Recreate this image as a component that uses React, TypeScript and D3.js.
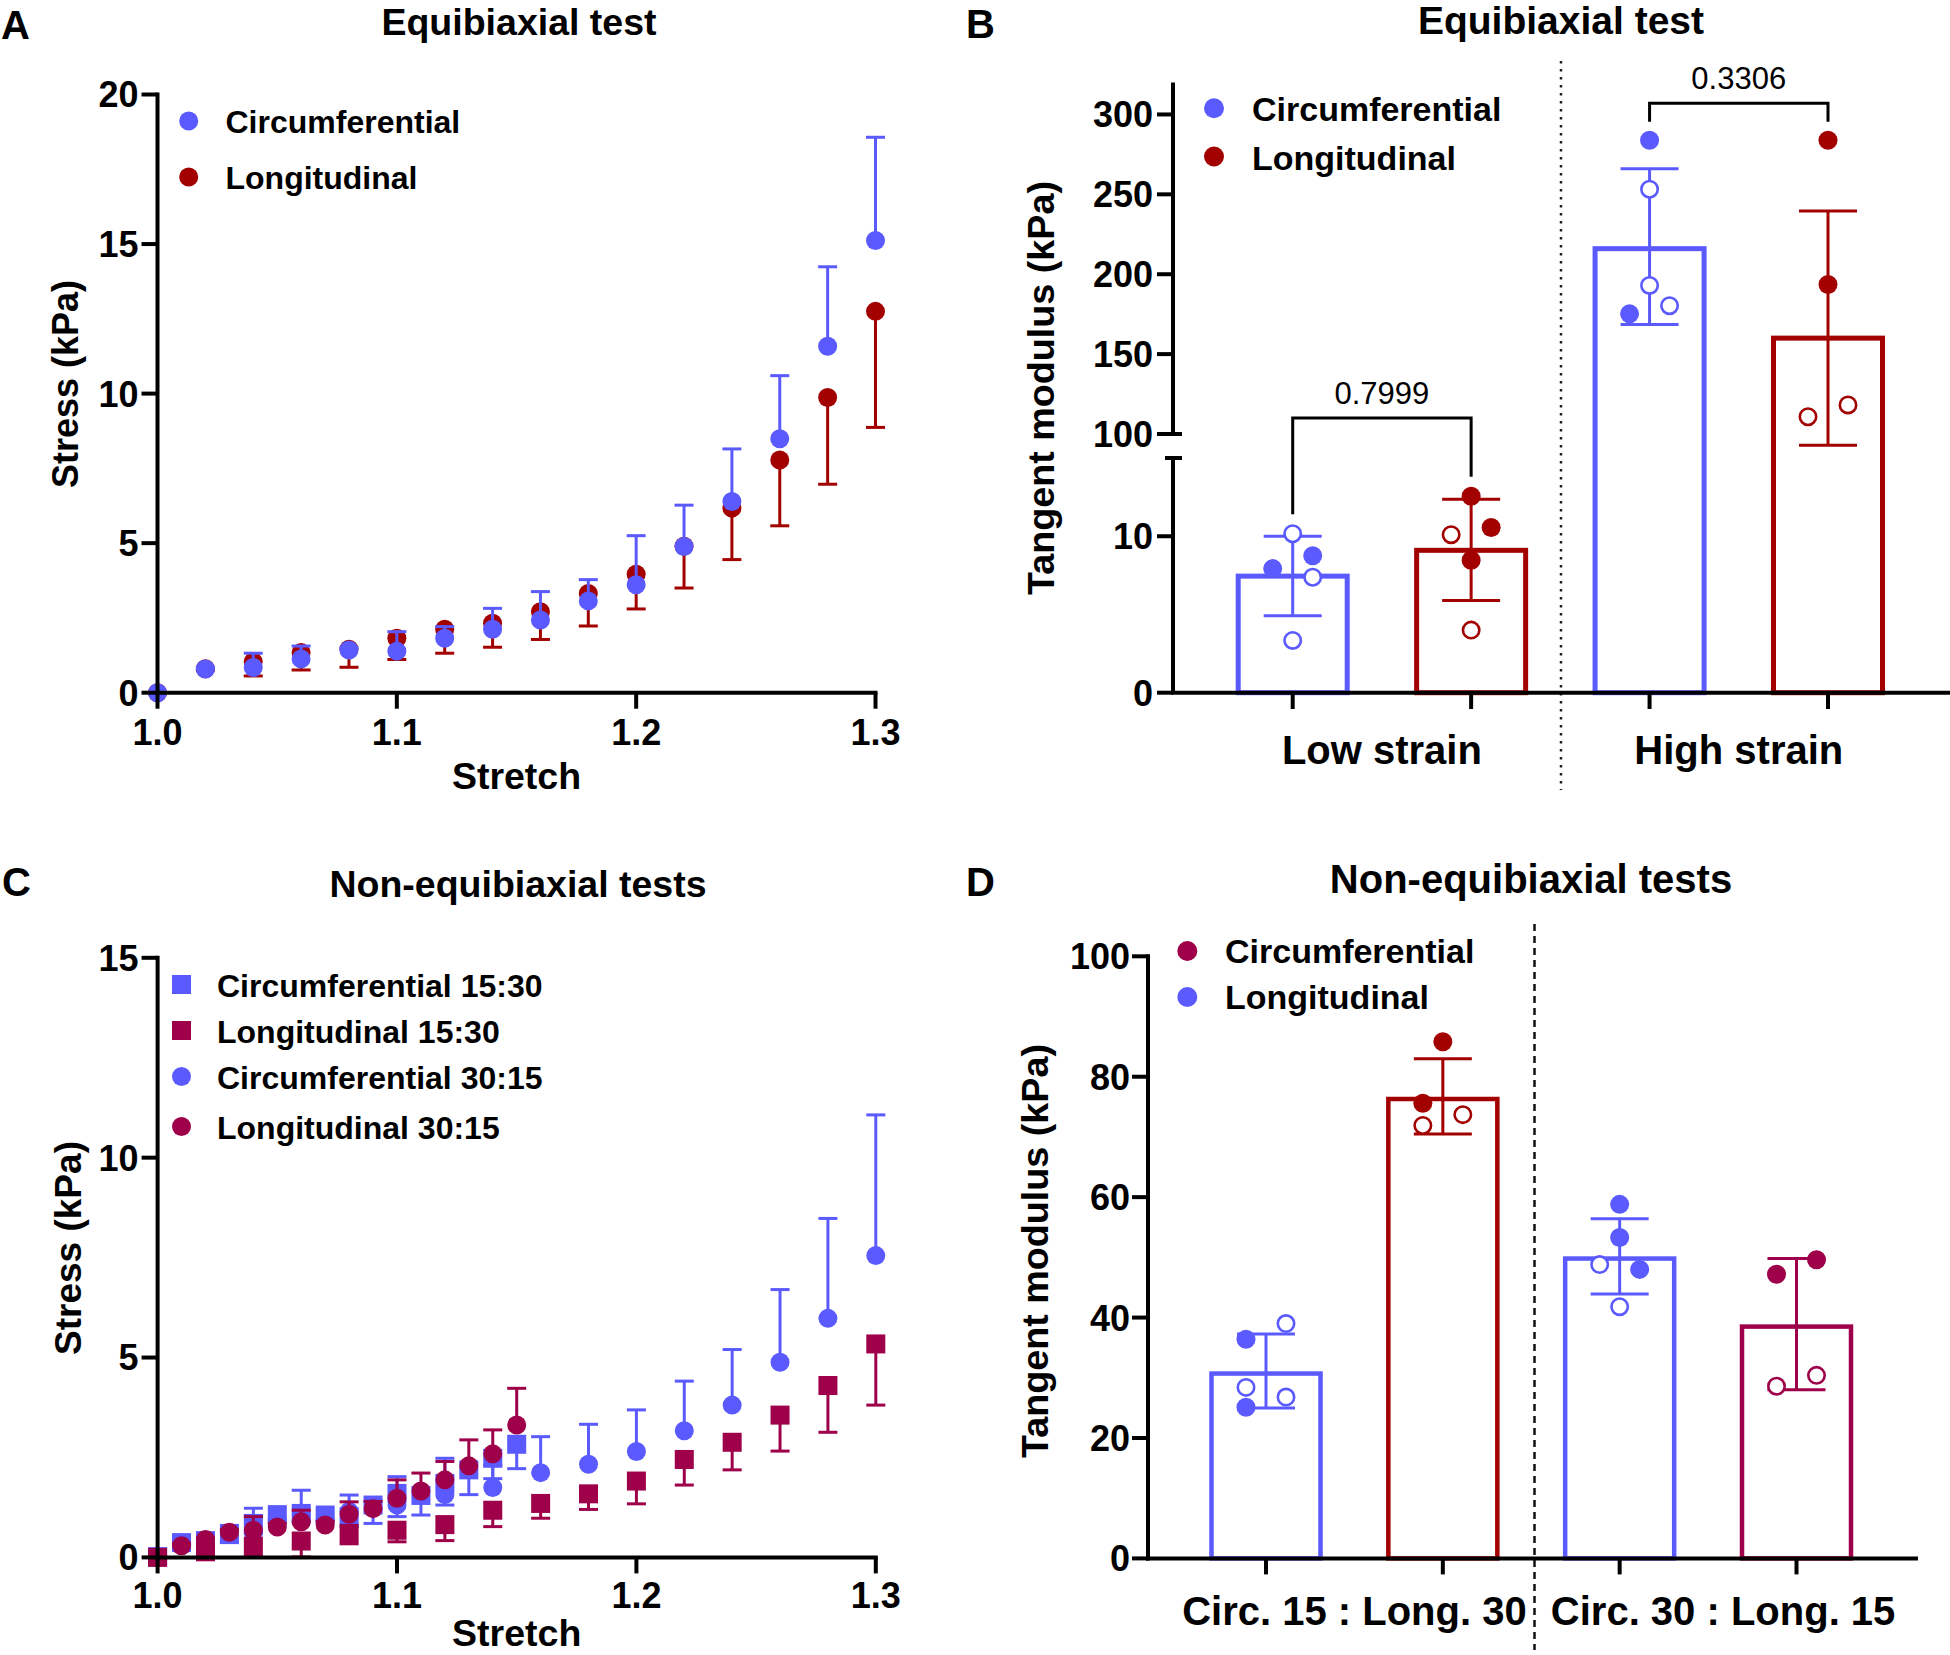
import React from 'react';
import * as d3 from 'd3';

const BLUE = '#5a5aff';
const RED = '#a30000';
const CRIMSON = '#9e0049';
const FONT = '"Liberation Sans", Arial, Helvetica, sans-serif';

// ---- A: equibiaxial stress vs stretch
const stretchA = [1.0, 1.02, 1.04, 1.06, 1.08, 1.1, 1.12, 1.14, 1.16, 1.18, 1.2, 1.22, 1.24, 1.26, 1.28, 1.3];
const circA = [0, 0.79, 0.84, 1.13, 1.43, 1.39, 1.82, 2.12, 2.43, 3.07, 3.61, 4.89, 6.39, 8.49, 11.58, 15.12];
const circAUpper = [0, 0.85, 1.32, 1.56, 1.5, 2.04, 2.21, 2.82, 3.38, 3.78, 5.25, 6.27, 8.15, 10.6, 14.24, 18.57];
const longA = [0, 0.8, 1.04, 1.34, 1.45, 1.82, 2.12, 2.32, 2.71, 3.32, 3.96, 4.9, 6.17, 7.78, 9.87, 12.75];
const longALower = [0, 0.75, 0.56, 0.76, 0.85, 1.11, 1.32, 1.52, 1.78, 2.23, 2.8, 3.5, 4.45, 5.58, 6.97, 8.87];
const stretchTicks = [1.0, 1.1, 1.2, 1.3];
const stressTicksA = [0, 5, 10, 15, 20];

// ---- C: non-equibiaxial stress vs stretch
const stretchFine = [1.0, 1.01, 1.02, 1.03, 1.04, 1.05, 1.06, 1.07, 1.08, 1.09, 1.1, 1.11, 1.12, 1.13, 1.14, 1.15];
const stretchCoarse = [1.0, 1.02, 1.04, 1.06, 1.08, 1.1, 1.12, 1.14, 1.16, 1.18, 1.2, 1.22, 1.24, 1.26, 1.28, 1.3];
const circ1530 = [0.02, 0.37, 0.42, 0.6, 0.85, 1.07, 1.1, 1.06, 1.02, 1.31, 1.6, 1.55, 1.85, 2.19, 2.48, 2.83];
const circ1530Lower = [0, 0.3, 0.3, 0.37, 0.6, 0.95, 0.9, 0.95, 0.77, 0.85, 1.02, 1.06, 1.31, 1.57, 1.97, 2.22];
const long1530 = [0, 0.14, 0.28, 0.41, 0.6, 0.68, 0.82, 1.18, 1.35, 1.59, 1.91, 2.45, 2.88, 3.56, 4.3, 5.34];
const long1530Lower = [0, 0, 0.02, 0.01, 0.34, 0.39, 0.42, 0.77, 0.98, 1.2, 1.34, 1.81, 2.19, 2.66, 3.13, 3.81];
const circ3015 = [0, 0.31, 0.62, 1.07, 1.15, 1.31, 1.57, 1.75, 2.12, 2.33, 2.65, 3.17, 3.81, 4.88, 5.98, 7.55];
const circ3015Upper = [0, 0.4, 1.23, 1.68, 1.56, 2.02, 2.48, 2.3, 3.02, 3.33, 3.69, 4.41, 5.2, 6.7, 8.48, 11.07];
const long3015 = [0, 0.29, 0.45, 0.63, 0.68, 0.76, 0.89, 0.81, 1.08, 1.22, 1.48, 1.66, 1.94, 2.29, 2.59, 3.31];
const long3015Upper = [0, 0.35, 0.5, 0.7, 1.02, 0.85, 1.18, 0.9, 1.39, 1.4, 1.94, 2.11, 2.4, 2.94, 3.19, 4.23];
const stressTicksC = [0, 5, 10, 15];

// ---- B: tangent modulus, equibiaxial
const strainGroups = ['Low strain', 'High strain'];
const bBars = ['lowC', 'lowL', 'highC', 'highL'];
const bMean = [7.45, 9.1, 216, 160];
const bUpper = [10.0, 12.36, 266, 239.5];
const bLower = [4.92, 5.9, 168.5, 93];
const bPoints = [
  [10.16, 8.75, 7.93, 7.38, 3.34],
  [12.56, 10.56, 10.1, 8.46, 4.0],
  [283.8, 253.2, 193, 180.3, 175.2],
  [283.8, 193.6, 118.2, 110.8],
];
const bFilled = [[0, 1, 1, 0, 0], [1, 1, 0, 1, 0], [1, 0, 0, 0, 1], [1, 1, 0, 0]];
const bSide = [[0, 1, -1, 1, 0], [0, 1, -1, 0, 0], [0, 0, 0, 1, -1], [0, 0, 1, -1]];
const bPValues = ['0.7999', '0.3306'];
const bBracketTop = [110, 307];
const bBracketLegs = [[11.4, 13.8], [295.5, 295.5]];
const modLowTicks = [0, 10];
const modHighTicks = [100, 150, 200, 250, 300];

// ---- D: tangent modulus, non-equibiaxial
const ratioGroups = ['Circ. 15 : Long. 30', 'Circ. 30 : Long. 15'];
const dBars = ['c1530', 'l1530', 'c3015', 'l3015'];
const dMean = [30.7, 76.3, 49.8, 38.5];
const dUpper = [37.25, 83.0, 56.4, 49.8];
const dLower = [24.98, 70.5, 43.9, 28.0];
const dPoints = [
  [36.4, 39.0, 28.4, 26.8, 25.1],
  [85.8, 75.6, 73.7, 71.9],
  [58.8, 53.3, 48.8, 48.0, 41.8],
  [49.6, 47.2, 30.4, 28.6],
];
const dFilled = [[1, 0, 0, 0, 1], [1, 1, 0, 0], [1, 1, 0, 1, 0], [1, 1, 0, 0]];
const dSide = [[-1, 1, -1, 1, -1], [0, -1, 1, -1], [0, 0, -1, 1, 0], [1, -1, 1, -1]];
const modTicksD = [0, 20, 40, 60, 80, 100];

const bColors = [BLUE, RED, BLUE, RED];
const dColors = [BLUE, RED, BLUE, CRIMSON];

const fmt1 = d3.format('.1f');

// scales
const xA = d3.scaleLinear().domain([1.0, 1.3]).range([157.5, 875.5]);
const yA = d3.scaleLinear().domain([0, 20]).range([692.7, 94.5]);
const xC = d3.scaleLinear().domain([1.0, 1.3]).range([157.6, 875.8]);
const yC = d3.scaleLinear().domain([0, 15]).range([1557.4, 957.8]);
const xB = d3.scalePoint<string>().domain(bBars).range([1292.7, 1828]);
const yBLow = d3.scaleLinear().domain([0, 15]).range([692.7, 458]);
const yBHigh = d3.scaleLinear().domain([100, 320]).range([434, 82.5]);
const yB = (v: number) => (v <= 15 ? yBLow(v) : yBHigh(v));
const xD = d3.scalePoint<string>().domain(dBars).range([1266, 1796.5]);
const yD = d3.scaleLinear().domain([0, 100]).range([1558.4, 956.3]);

const R = 9.5;

function Marker({ x, y, color, shape }: { x: number; y: number; color: string; shape: string }) {
  if (shape === 'square') {
    return <rect x={x - R} y={y - R} width={2 * R} height={2 * R} fill={color} />;
  }
  return <circle cx={x} cy={y} r={R} fill={color} />;
}

function XYSeries({ xs, ys, errs, x, y, color, shape }: any) {
  return (
    <g>
      {xs.map((s: number, i: number) => {
        const px = x(s);
        const py = y(ys[i]);
        const pe = y(errs[i]);
        return (
          <g key={i}>
            {Math.abs(pe - py) > 0.5 && (
              <g stroke={color} strokeWidth={3}>
                <line x1={px} x2={px} y1={py} y2={pe} />
                <line x1={px - 9.5} x2={px + 9.5} y1={pe} y2={pe} />
              </g>
            )}
            <Marker x={px} y={py} color={color} shape={shape} />
          </g>
        );
      })}
    </g>
  );
}

function Stretch({ x, y, ticks, yTicks, labelBase, titleBase }: any) {
  const [x0, x1] = x.range();
  const [y0, y1] = y.range();
  return (
    <g fontFamily={FONT} fontWeight="bold">
      <line x1={x0} x2={x0} y1={y0} y2={y1} stroke="#000" strokeWidth={4} strokeLinecap="square" />
      <line x1={x0} x2={x1} y1={y0} y2={y0} stroke="#000" strokeWidth={4} strokeLinecap="square" />
      {yTicks.map((t: number) => (
        <g key={t}>
          <line x1={x0 - 16} x2={x0} y1={y(t)} y2={y(t)} stroke="#000" strokeWidth={4} />
          <text x={x0 - 19} y={y(t)} dy="0.36em" textAnchor="end" fontSize={36}>{t}</text>
        </g>
      ))}
      {ticks.map((t: number) => (
        <g key={t}>
          <line x1={x(t)} x2={x(t)} y1={y0} y2={y0 + 16} stroke="#000" strokeWidth={4} />
          <text x={x(t)} y={labelBase} textAnchor="middle" fontSize={36}>{fmt1(t)}</text>
        </g>
      ))}
      <text x={(x0 + x1) / 2} y={titleBase} textAnchor="middle" fontSize={37.5}>Stretch</text>
    </g>
  );
}

function ErrBar({ cx, top, bottom, color, sw }: any) {
  return (
    <g stroke={color} strokeWidth={sw}>
      <line x1={cx} x2={cx} y1={top} y2={bottom} />
      <line x1={cx - 29} x2={cx + 29} y1={top} y2={top} />
      <line x1={cx - 29} x2={cx + 29} y1={bottom} y2={bottom} />
    </g>
  );
}

function Dots({ cx, vals, filled, side, y, color }: any) {
  return (
    <g>
      {vals.map((v: number, i: number) => {
        const px = cx + side[i] * 20;
        return filled[i] ? (
          <circle key={i} cx={px} cy={y(v)} r={R} fill={color} />
        ) : (
          <circle key={i} cx={px} cy={y(v)} r={R - 1.3} fill="#fff" stroke={color} strokeWidth={2.6} />
        );
      })}
    </g>
  );
}

function PanelA() {
  return (
    <g>
      <text x={1} y={39} fontFamily={FONT} fontWeight="bold" fontSize={40}>A</text>
      <text x={519} y={35} fontFamily={FONT} fontWeight="bold" fontSize={37.5} textAnchor="middle">Equibiaxial test</text>
      <text transform="translate(78,384) rotate(-90)" fontFamily={FONT} fontWeight="bold" fontSize={36} textAnchor="middle">Stress (kPa)</text>
      <XYSeries xs={stretchA} ys={longA} errs={longALower} x={xA} y={yA} color={RED} shape="circle" />
      <XYSeries xs={stretchA} ys={circA} errs={circAUpper} x={xA} y={yA} color={BLUE} shape="circle" />
      <Stretch x={xA} y={yA} ticks={stretchTicks} yTicks={stressTicksA} labelBase={745} titleBase={789} />
      <g fontFamily={FONT} fontWeight="bold" fontSize={32}>
        <circle cx={188.7} cy={121} r={R} fill={BLUE} />
        <text x={225.5} y={133}>Circumferential</text>
        <circle cx={188.7} cy={177} r={R} fill={RED} />
        <text x={225.5} y={189}>Longitudinal</text>
      </g>
    </g>
  );
}

function PanelC() {
  const legend = [
    { label: 'Circumferential 15:30', color: BLUE, shape: 'square', y: 984.5 },
    { label: 'Longitudinal 15:30', color: CRIMSON, shape: 'square', y: 1030.5 },
    { label: 'Circumferential 30:15', color: BLUE, shape: 'circle', y: 1076.5 },
    { label: 'Longitudinal 30:15', color: CRIMSON, shape: 'circle', y: 1126.5 },
  ];
  return (
    <g>
      <text x={2} y={896} fontFamily={FONT} fontWeight="bold" fontSize={40}>C</text>
      <text x={518} y={897} fontFamily={FONT} fontWeight="bold" fontSize={37.5} textAnchor="middle">Non-equibiaxial tests</text>
      <text transform="translate(81,1248) rotate(-90)" fontFamily={FONT} fontWeight="bold" fontSize={37} textAnchor="middle">Stress (kPa)</text>
      <XYSeries xs={stretchFine} ys={circ1530} errs={circ1530Lower} x={xC} y={yC} color={BLUE} shape="square" />
      <XYSeries xs={stretchCoarse} ys={circ3015} errs={circ3015Upper} x={xC} y={yC} color={BLUE} shape="circle" />
      <XYSeries xs={stretchCoarse} ys={long1530} errs={long1530Lower} x={xC} y={yC} color={CRIMSON} shape="square" />
      <XYSeries xs={stretchFine} ys={long3015} errs={long3015Upper} x={xC} y={yC} color={CRIMSON} shape="circle" />
      <Stretch x={xC} y={yC} ticks={stretchTicks} yTicks={stressTicksC} labelBase={1608} titleBase={1646} />
      <g fontFamily={FONT} fontWeight="bold" fontSize={32}>
        {legend.map((l) => (
          <g key={l.label}>
            <Marker x={181.5} y={l.y} color={l.color} shape={l.shape} />
            <text x={217} y={l.y + 12}>{l.label}</text>
          </g>
        ))}
      </g>
    </g>
  );
}

function PanelB() {
  const ax = 1173;
  const bw = 109;
  return (
    <g>
      <text x={966} y={38} fontFamily={FONT} fontWeight="bold" fontSize={40}>B</text>
      <text x={1561} y={34} fontFamily={FONT} fontWeight="bold" fontSize={39} textAnchor="middle">Equibiaxial test</text>
      <text transform="translate(1054,388) rotate(-90)" fontFamily={FONT} fontWeight="bold" fontSize={37.7} textAnchor="middle">Tangent modulus (kPa)</text>
      <line x1={1561} x2={1561} y1={61} y2={790} stroke="#222" strokeWidth={2.5} strokeDasharray="2.5,5.5" />
      {bBars.map((k, i) => {
        const cx = xB(k) as number;
        const color = bColors[i];
        return (
          <g key={k}>
            <rect x={cx - bw / 2} y={yB(bMean[i])} width={bw} height={692.7 - yB(bMean[i])} fill="#fff" stroke={color} strokeWidth={5} />
            <ErrBar cx={cx} top={yB(bUpper[i])} bottom={yB(bLower[i])} color={color} sw={3} />
            <Dots cx={cx} vals={bPoints[i]} filled={bFilled[i]} side={bSide[i]} y={yB} color={color} />
          </g>
        );
      })}
      {/* comparison brackets */}
      {bPValues.map((p, g) => {
        const xl = xB(bBars[2 * g]) as number;
        const xr = xB(bBars[2 * g + 1]) as number;
        const yt = yB(bBracketTop[g]);
        return (
          <g key={p}>
            <path d={`M${xl},${yB(bBracketLegs[g][0])}V${yt}H${xr}V${yB(bBracketLegs[g][1])}`} fill="none" stroke="#000" strokeWidth={3} />
            <text x={(xl + xr) / 2} y={yt - 14} textAnchor="middle" fontFamily={FONT} fontSize={31}>{p}</text>
          </g>
        );
      })}
      <g fontFamily={FONT} fontWeight="bold">
        <line x1={ax} x2={ax} y1={yBHigh(320)} y2={yBHigh(100)} stroke="#000" strokeWidth={4} />
        <line x1={ax} x2={ax} y1={yBLow(15)} y2={yBLow(0)} stroke="#000" strokeWidth={4} />
        <line x1={ax - 8} x2={ax + 9} y1={yBHigh(100)} y2={yBHigh(100)} stroke="#000" strokeWidth={4} />
        <line x1={ax - 8} x2={ax + 9} y1={yBLow(15)} y2={yBLow(15)} stroke="#000" strokeWidth={4} />
        <line x1={ax - 2} x2={1950} y1={692.7} y2={692.7} stroke="#000" strokeWidth={4} />
        {modHighTicks.map((t) => (
          <g key={t}>
            <line x1={ax - 16} x2={ax} y1={yBHigh(t)} y2={yBHigh(t)} stroke="#000" strokeWidth={4} />
            <text x={ax - 20} y={yBHigh(t)} dy="0.36em" textAnchor="end" fontSize={36}>{t}</text>
          </g>
        ))}
        {modLowTicks.map((t) => (
          <g key={t}>
            <line x1={ax - 16} x2={ax} y1={yBLow(t)} y2={yBLow(t)} stroke="#000" strokeWidth={4} />
            <text x={ax - 20} y={yBLow(t)} dy="0.36em" textAnchor="end" fontSize={36}>{t}</text>
          </g>
        ))}
        {bBars.map((k) => (
          <line key={k} x1={xB(k)} x2={xB(k)} y1={692.7} y2={709} stroke="#000" strokeWidth={4} />
        ))}
        {strainGroups.map((g, i) => {
          const cx = ((xB(bBars[2 * i]) as number) + (xB(bBars[2 * i + 1]) as number)) / 2;
          return (
            <text key={g} x={cx} y={764} textAnchor="middle" fontSize={40}>{g}</text>
          );
        })}
      </g>
      <g fontFamily={FONT} fontWeight="bold" fontSize={34}>
        <circle cx={1214} cy={108.3} r={R + 0.5} fill={BLUE} />
        <text x={1252} y={121}>Circumferential</text>
        <circle cx={1214} cy={156.5} r={R + 0.5} fill={RED} />
        <text x={1252} y={169.5}>Longitudinal</text>
      </g>
    </g>
  );
}

function PanelD() {
  const ax = 1148;
  const bw = 109;
  const y0 = yD(0);
  return (
    <g>
      <text x={966} y={896} fontFamily={FONT} fontWeight="bold" fontSize={40}>D</text>
      <text x={1531} y={893} fontFamily={FONT} fontWeight="bold" fontSize={40} textAnchor="middle">Non-equibiaxial tests</text>
      <text transform="translate(1048,1251) rotate(-90)" fontFamily={FONT} fontWeight="bold" fontSize={37.7} textAnchor="middle">Tangent modulus (kPa)</text>
      <line x1={1534.5} x2={1534.5} y1={924} y2={1650} stroke="#111" strokeWidth={2.5} strokeDasharray="7,5" />
      {dBars.map((k, i) => {
        const cx = xD(k) as number;
        const color = dColors[i];
        return (
          <g key={k}>
            <rect x={cx - bw / 2} y={yD(dMean[i])} width={bw} height={y0 - yD(dMean[i])} fill="#fff" stroke={color} strokeWidth={4.5} />
            <ErrBar cx={cx} top={yD(dUpper[i])} bottom={yD(dLower[i])} color={color} sw={3} />
            <Dots cx={cx} vals={dPoints[i]} filled={dFilled[i]} side={dSide[i]} y={yD} color={color} />
          </g>
        );
      })}
      <g fontFamily={FONT} fontWeight="bold">
        <line x1={ax} x2={ax} y1={yD(100)} y2={y0} stroke="#000" strokeWidth={4} strokeLinecap="square" />
        <line x1={ax} x2={1916} y1={y0} y2={y0} stroke="#000" strokeWidth={4} strokeLinecap="square" />
        {modTicksD.map((t) => (
          <g key={t}>
            <line x1={ax - 16} x2={ax} y1={yD(t)} y2={yD(t)} stroke="#000" strokeWidth={4} />
            <text x={ax - 18} y={yD(t)} dy="0.36em" textAnchor="end" fontSize={36}>{t}</text>
          </g>
        ))}
        {dBars.map((k) => (
          <line key={k} x1={xD(k)} x2={xD(k)} y1={y0} y2={y0 + 16} stroke="#000" strokeWidth={4} />
        ))}
        {ratioGroups.map((g, i) => {
          const cx = ((xD(dBars[2 * i]) as number) + (xD(dBars[2 * i + 1]) as number)) / 2 + i * 15;
          return (
            <text key={g} x={cx} y={1625} textAnchor="middle" fontSize={40}>{g}</text>
          );
        })}
      </g>
      <g fontFamily={FONT} fontWeight="bold" fontSize={34}>
        <circle cx={1187.3} cy={951} r={R + 0.5} fill={CRIMSON} />
        <text x={1225} y={963}>Circumferential</text>
        <circle cx={1187.3} cy={997} r={R + 0.5} fill={BLUE} />
        <text x={1225} y={1009}>Longitudinal</text>
      </g>
    </g>
  );
}

export default function App() {
  return (
    <svg width={1950} height={1655} style={{ position: 'absolute', left: 0, top: 0, background: '#fff' }}>
      <rect width={1950} height={1655} fill="#fff" />
      <PanelA />
      <PanelB />
      <PanelC />
      <PanelD />
    </svg>
  );
}
